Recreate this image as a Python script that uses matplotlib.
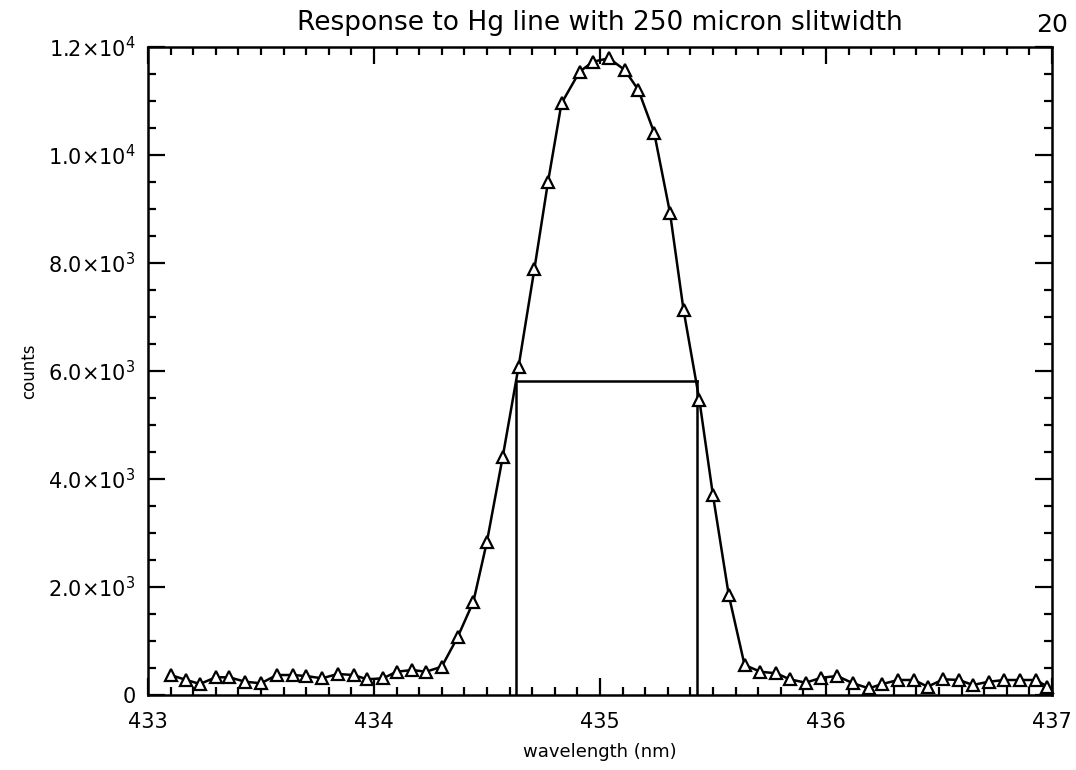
import numpy as np
import matplotlib
matplotlib.use('Agg')
import matplotlib.pyplot as plt
from matplotlib.ticker import MultipleLocator

# wavelength (nm) and counts
wavelength = [433.10, 433.17, 433.23, 433.30, 433.36, 433.43, 433.50, 433.57,
              433.64, 433.70, 433.77, 433.84, 433.91, 433.97, 434.04, 434.10,
              434.17, 434.23, 434.30, 434.37, 434.44, 434.50, 434.57, 434.64,
              434.71, 434.77, 434.83, 434.91, 434.97, 435.04, 435.11, 435.17,
              435.24, 435.31, 435.37, 435.44, 435.50, 435.57, 435.64, 435.71,
              435.78, 435.84, 435.91, 435.98, 436.05, 436.12, 436.19, 436.25,
              436.32, 436.39, 436.45, 436.52, 436.59, 436.65, 436.72, 436.79,
              436.86, 436.93, 436.98]
counts = [370, 278, 204, 328, 328, 246, 217, 370,
          370, 352, 309, 389, 370, 291, 309, 431,
          463, 431, 524, 1069, 1728, 2839, 4413, 6080,
          7889, 9494, 10957, 11543, 11728, 11791, 11574, 11204,
          10413, 8931, 7130, 5463, 3704, 1852, 556, 431,
          402, 291, 228, 320, 352, 217, 124, 204,
          278, 278, 154, 291, 278, 185, 246, 278,
          278, 278, 154]

# half-maximum markers
fwhm_left = 434.63
fwhm_right = 435.43
half_max = 5820

ytick_vals = [0, 2000, 4000, 6000, 8000, 10000, 12000]
ytick_labels = ['0', r'2.0$\times$10$^3$', r'4.0$\times$10$^3$', r'6.0$\times$10$^3$',
                r'8.0$\times$10$^3$', r'1.0$\times$10$^4$', r'1.2$\times$10$^4$']
xtick_vals = [433, 434, 435, 436, 437]

fig = plt.figure(figsize=(10.76, 7.7), dpi=100)
ax = fig.add_axes([0.1375, 0.0974, 0.8401, 0.8416])

ax.plot(wavelength, counts, color='black', lw=1.8, marker='^', ms=9,
        mfc='white', mec='black', mew=1.6, clip_on=False, zorder=3)

# FWHM box
ax.plot([fwhm_left, fwhm_left], [0, half_max], color='black', lw=1.8)
ax.plot([fwhm_right, fwhm_right], [0, half_max], color='black', lw=1.8)
ax.plot([fwhm_left, fwhm_right], [half_max, half_max], color='black', lw=1.8)

ax.set_xlim(433, 437)
ax.set_ylim(0, 12000)
ax.set_xticks(xtick_vals)
ax.set_xticklabels([str(v) for v in xtick_vals])
ax.set_yticks(ytick_vals)
ax.set_yticklabels(ytick_labels)
ax.xaxis.set_minor_locator(MultipleLocator(0.1))
ax.yaxis.set_minor_locator(MultipleLocator(500))

ax.tick_params(which='both', direction='in', top=True, right=True,
               width=1.6, labelsize=15, colors='black')
ax.tick_params(which='major', length=12, pad=9)
ax.tick_params(axis='x', which='major', pad=12)
ax.tick_params(which='minor', length=6)
for sp in ax.spines.values():
    sp.set_linewidth(1.8)

ax.set_title('Response to Hg line with 250 micron slitwidth', fontsize=19, pad=12)
ax.set_xlabel('wavelength (nm)', fontsize=13, labelpad=8)
ax.set_ylabel('counts', fontsize=12)
ax.yaxis.set_label_coords(-0.1215, 0.5)
fig.text(0.978, 0.967, '20', fontsize=18, ha='center', va='center')

plt.savefig('out.png', dpi=100)
